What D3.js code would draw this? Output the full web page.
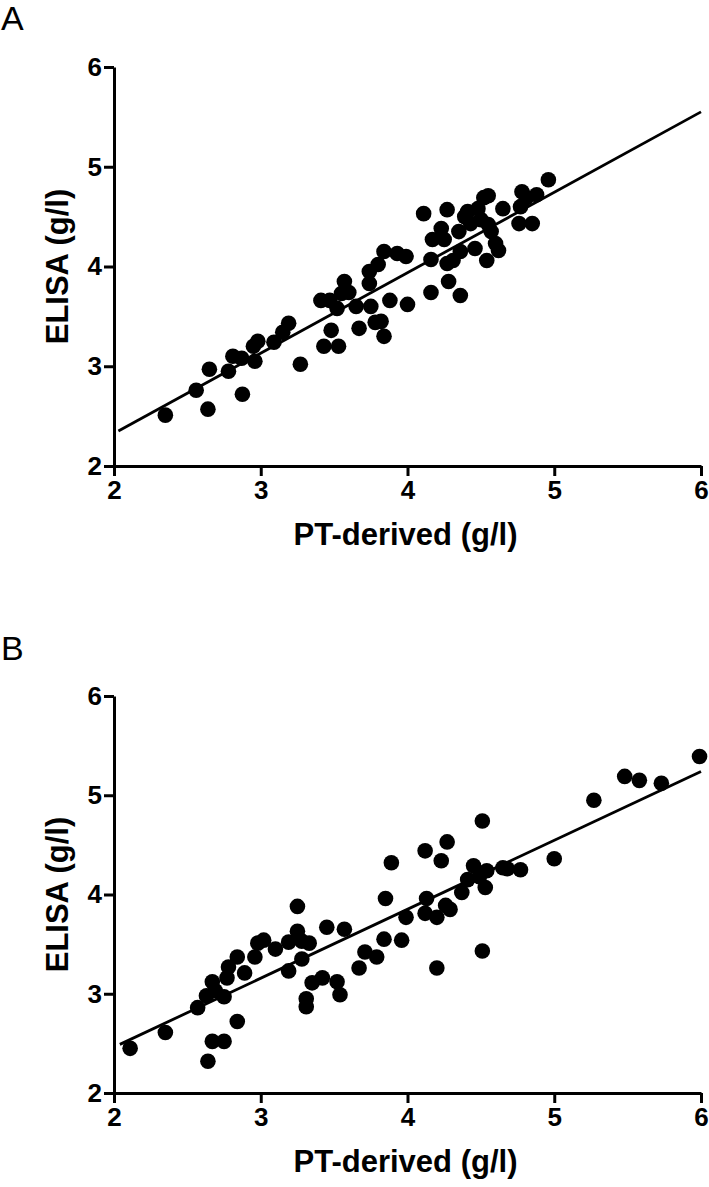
<!DOCTYPE html>
<html>
<head>
<meta charset="utf-8">
<script src="https://cdn.jsdelivr.net/npm/d3@7"></script>
<style>
  html, body { margin: 0; padding: 0; background: #fff; }
  svg { display: block; }
  text { font-family: "Liberation Sans", Arial, Helvetica, sans-serif; fill: #000; }
</style>
</head>
<body>
<svg id="chart" width="709" height="1187"></svg>
<script>
// ---- data ----
const tickValues = [2, 3, 4, 5, 6];
const panelLabels = ["A", "B"];
const xTitle = "PT-derived (g/l)";
const yTitle = "ELISA (g/l)";

const aX = [2.35,2.64,2.56,2.65,2.78,2.875,2.81,2.87,2.96,2.95,2.98,3.09,3.15,3.19,3.27,3.43,3.48,3.53,3.41,3.47,3.52,3.57,3.60,3.55,3.65,3.67,3.75,3.74,3.74,3.80,3.78,3.82,3.84,3.84,3.93,3.99,3.88,4.00,
            4.11,4.27,4.17,4.23,4.25,4.16,4.27,4.31,4.35,4.39,4.41,4.48,4.55,4.52,4.43,4.50,4.55,4.57,4.60,4.62,4.54,4.46,4.36,4.28,4.16,4.36,4.65,4.78,4.81,4.88,4.77,4.76,4.85,4.96];
const aY = [2.51,2.57,2.76,2.97,2.95,2.72,3.10,3.08,3.05,3.20,3.25,3.24,3.34,3.43,3.02,3.20,3.36,3.20,3.66,3.66,3.58,3.85,3.74,3.73,3.60,3.38,3.60,3.83,3.95,4.02,3.44,3.45,3.30,4.15,4.13,4.10,3.66,3.62,
            4.53,4.57,4.27,4.38,4.27,4.07,4.03,4.06,4.35,4.50,4.55,4.58,4.71,4.69,4.43,4.47,4.42,4.35,4.23,4.16,4.06,4.18,4.15,3.85,3.74,3.71,4.58,4.75,4.69,4.72,4.60,4.43,4.43,4.87];

const bX = [2.11,2.35,2.57,2.64,2.67,2.75,2.84,2.63,2.67,2.69,2.75,2.77,2.78,2.84,2.89,2.96,2.98,3.02,3.10,3.19,3.19,3.25,3.25,3.28,3.33,3.28,3.31,3.31,3.35,3.42,3.45,3.57,3.52,3.54,3.67,3.71,3.79,3.84,3.85,3.89,3.96,3.99,
            4.12,4.27,4.23,4.51,4.13,4.12,4.20,4.26,4.29,4.37,4.41,4.45,4.53,4.54,4.49,4.65,4.68,4.77,5.00,5.27,5.48,5.58,5.73,5.99,4.51,4.20];
const bY = [2.45,2.61,2.86,2.32,2.52,2.52,2.72,2.98,3.12,3.03,2.97,3.16,3.27,3.37,3.21,3.37,3.51,3.54,3.45,3.52,3.23,3.88,3.63,3.53,3.51,3.35,2.95,2.87,3.11,3.16,3.67,3.65,3.12,2.99,3.26,3.42,3.37,3.55,3.96,4.32,3.54,3.77,
            4.44,4.53,4.34,4.74,3.96,3.81,3.77,3.89,3.85,4.02,4.15,4.29,4.07,4.24,4.18,4.27,4.26,4.25,4.36,4.95,5.19,5.15,5.12,5.39,3.43,3.26];

// regression line end points (as drawn)
const regAX = [2.03, 6.0];
const regAY = [2.35, 5.55];
const regBX = [2.04, 6.0];
const regBY = [2.49, 5.24];

// ---- drawing ----
const svg = d3.select("#chart");
svg.append("rect").attr("width", 709).attr("height", 1187).attr("fill", "#fff");

const panels = [
  { label: panelLabels[0], xs: aX, ys: aY, rx: regAX, ry: regAY, top: 67, bottom: 466, labelY: 30 },
  { label: panelLabels[1], xs: bX, ys: bY, rx: regBX, ry: regBY, top: 696, bottom: 1093, labelY: 660 }
];

const left = 114, right = 701;

panels.forEach(p => {
  const g = svg.append("g");
  const x = d3.scaleLinear().domain([2, 6]).range([left, right]);
  const y = d3.scaleLinear().domain([2, 6]).range([p.bottom, p.top]);

  // panel letter
  g.append("text").attr("x", 1).attr("y", p.labelY)
    .attr("font-size", 34).attr("font-weight", "normal").text(p.label);

  // regression line
  g.append("line")
    .attr("x1", x(p.rx[0])).attr("y1", y(p.ry[0]))
    .attr("x2", x(p.rx[1])).attr("y2", y(p.ry[1]))
    .attr("stroke", "#000").attr("stroke-width", 2.8);

  // points
  g.selectAll("circle.pt").data(p.xs.map((v, i) => [v, p.ys[i]])).join("circle")
    .attr("class", "pt")
    .attr("cx", d => x(d[0])).attr("cy", d => y(d[1]))
    .attr("r", 7.8).attr("fill", "#000");

  // axes
  const xAxis = d3.axisBottom(x).tickValues(tickValues).tickSize(10).tickSizeOuter(0).tickPadding(5)
    .tickFormat(d3.format("d"));
  const yAxis = d3.axisLeft(y).tickValues(tickValues).tickSize(10).tickSizeOuter(0).tickPadding(2)
    .tickFormat(d3.format("d"));

  const gx = g.append("g").attr("transform", `translate(0,${p.bottom})`).call(xAxis);
  const gy = g.append("g").attr("transform", `translate(${left},0)`).call(yAxis);

  [gx, gy].forEach(ax => {
    ax.select(".domain").attr("stroke", "#000").attr("stroke-width", 3);
    ax.selectAll(".tick line").attr("stroke", "#000").attr("stroke-width", 3);
    ax.selectAll(".tick text").attr("font-size", 26).attr("font-weight", "bold")
      .attr("font-family", "'Liberation Sans', Arial, sans-serif").attr("fill", "#000");
  });

  // axis titles
  g.append("text")
    .attr("x", (left + right) / 2 - 2).attr("y", p.bottom + 79)
    .attr("text-anchor", "middle").attr("font-size", 31).attr("font-weight", "bold")
    .text(xTitle);

  g.append("text")
    .attr("transform", `translate(68,${(p.top + p.bottom) / 2}) rotate(-90)`)
    .attr("text-anchor", "middle").attr("font-size", 31).attr("font-weight", "bold")
    .text(yTitle);
});
</script>
</body>
</html>
